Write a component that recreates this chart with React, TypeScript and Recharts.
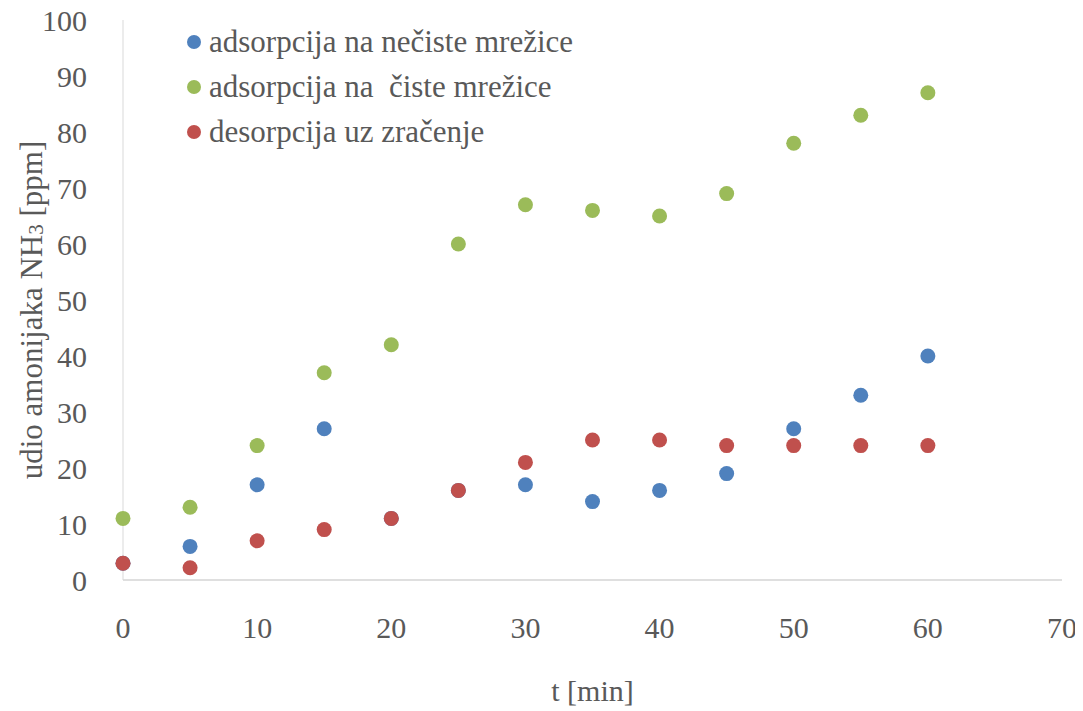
import { ScatterChart, Scatter, XAxis, YAxis, Legend } from 'recharts'

const times = [0, 5, 10, 15, 20, 25, 30, 35, 40, 45, 50, 55, 60]
const dirtyMesh = [3, 6, 17, 27, 11, 16, 17, 14, 16, 19, 27, 33, 40]
const cleanMesh = [11, 13, 24, 37, 42, 60, 67, 66, 65, 69, 78, 83, 87]
const desorption = [3, 2.2, 7, 9, 11, 16, 21, 25, 25, 24, 24, 24, 24]

const xTicks = [0, 10, 20, 30, 40, 50, 60, 70]
const yTicks = [0, 10, 20, 30, 40, 50, 60, 70, 80, 90, 100]

const SERIES = [
  { name: 'adsorpcija na nečiste mrežice', values: dirtyMesh, color: '#4F81BD' },
  { name: 'adsorpcija na  čiste mrežice', values: cleanMesh, color: '#9BBB59' },
  { name: 'desorpcija uz zračenje', values: desorption, color: '#C0504D' },
]

const FONT = 'Liberation Serif, Times New Roman, serif'
const TEXT = '#595959'

const toPoints = (values: number[]) => times.map((t, i) => ({ x: t, y: values[i] }))

const XTick = ({ x, y, payload }: any) => (
  <text x={x} y={y + 39} textAnchor="middle" dominantBaseline="central"
    fontFamily={FONT} fontSize={30} fill={TEXT}>
    {payload.value}
  </text>
)

const YTick = ({ x, y, payload }: any) => (
  <text x={x - 28} y={y} textAnchor="end" dominantBaseline="central"
    fontFamily={FONT} fontSize={30} fill={TEXT}>
    {payload.value}
  </text>
)

const Dot = ({ cx, cy, fill }: any) => <circle cx={cx} cy={cy} r={7.5} fill={fill} />

const renderLegend = () => (
  <div style={{ fontFamily: FONT, fontSize: 31, color: TEXT }}>
    {SERIES.map(s => (
      <div key={s.name} style={{ display: 'flex', alignItems: 'center', height: 45, whiteSpace: 'pre' }}>
        <span style={{ width: 14, height: 14, borderRadius: 7, background: s.color, marginRight: 8, display: 'inline-block' }} />
        {s.name}
      </div>
    ))}
  </div>
)

export default function App() {
  return (
    <ScatterChart width={1075} height={703} margin={{ top: 12, right: 21, bottom: 101, left: 0 }}>
      <XAxis type="number" dataKey="x" domain={[0, 70]} ticks={xTicks} tickLine={false}
        stroke="#BFBFBF" tick={<XTick />}
        label={({ viewBox }: any) => (
          <text x={viewBox.x + viewBox.width / 2} y={682} textAnchor="middle" dominantBaseline="central"
            fontFamily={FONT} fontSize={30} fill={TEXT}>
            t [min]
          </text>
        )} />
      <YAxis type="number" dataKey="y" domain={[0, 100]} ticks={yTicks} tickLine={false}
        stroke="#D9D9D9" width={115} tick={<YTick />}
        label={() => (
          <text x={23} y={302} textAnchor="middle" dominantBaseline="central"
            transform="rotate(-90 23 302)"
            fontFamily={FONT} fontSize={31} fill={TEXT}>
            udio amonijaka NH<tspan fontSize={21} dy={5}>3</tspan><tspan dy={-5}> [ppm]</tspan>
          </text>
        )} />
      <Legend content={renderLegend} layout="horizontal" verticalAlign="middle" align="center"
        wrapperStyle={{ left: 179, top: 11, width: 'auto' }} />
      {SERIES.map(s => (
        <Scatter key={s.name} name={s.name} data={toPoints(s.values)} fill={s.color}
          shape={<Dot />} isAnimationActive={false} />
      ))}
    </ScatterChart>
  )
}
